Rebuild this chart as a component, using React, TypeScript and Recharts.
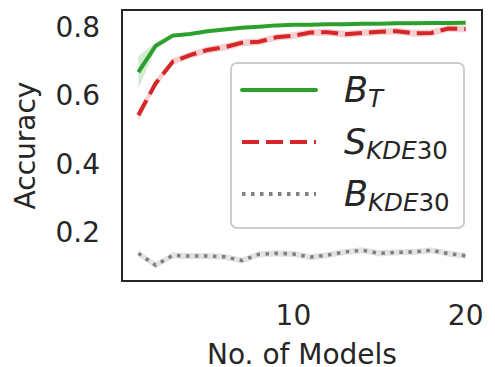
import {
  ComposedChart,
  Line,
  Area,
  XAxis,
  YAxis,
  Legend,
  Label,
  ReferenceArea,
} from "recharts";

const models = [1, 2, 3, 4, 5, 6, 7, 8, 9, 10, 11, 12, 13, 14, 15, 16, 17, 18, 19, 20];

const btMean = [0.668, 0.745, 0.775, 0.780, 0.788, 0.793, 0.798, 0.801, 0.805, 0.807, 0.807, 0.808, 0.808, 0.810, 0.810, 0.811, 0.811, 0.812, 0.812, 0.813];
const btLow = [0.620, 0.735, 0.769, 0.776, 0.785, 0.790, 0.795, 0.798, 0.802, 0.804, 0.804, 0.805, 0.805, 0.807, 0.807, 0.808, 0.808, 0.809, 0.809, 0.810];
const btHigh = [0.715, 0.755, 0.781, 0.784, 0.791, 0.796, 0.801, 0.804, 0.808, 0.810, 0.810, 0.811, 0.811, 0.813, 0.813, 0.814, 0.814, 0.815, 0.815, 0.816];

const skdeMean = [0.542, 0.635, 0.699, 0.718, 0.733, 0.741, 0.754, 0.757, 0.770, 0.775, 0.784, 0.785, 0.779, 0.783, 0.786, 0.788, 0.782, 0.783, 0.796, 0.794];
const skdeLow = [0.525, 0.624, 0.689, 0.708, 0.723, 0.731, 0.744, 0.747, 0.760, 0.765, 0.774, 0.775, 0.769, 0.773, 0.776, 0.778, 0.772, 0.773, 0.786, 0.784];
const skdeHigh = [0.559, 0.646, 0.709, 0.728, 0.743, 0.751, 0.764, 0.767, 0.780, 0.785, 0.794, 0.795, 0.789, 0.793, 0.796, 0.798, 0.792, 0.793, 0.806, 0.804];

const bkdeMean = [0.138, 0.103, 0.132, 0.130, 0.130, 0.128, 0.117, 0.135, 0.138, 0.136, 0.127, 0.133, 0.142, 0.147, 0.138, 0.141, 0.142, 0.147, 0.137, 0.131];
const bkdeLow = [0.129, 0.094, 0.123, 0.121, 0.121, 0.119, 0.108, 0.126, 0.129, 0.127, 0.118, 0.124, 0.133, 0.138, 0.129, 0.132, 0.133, 0.138, 0.128, 0.122];
const bkdeHigh = [0.147, 0.112, 0.141, 0.139, 0.139, 0.137, 0.126, 0.144, 0.147, 0.145, 0.136, 0.142, 0.151, 0.156, 0.147, 0.150, 0.151, 0.156, 0.146, 0.140];

const xTicks = [10, 20];
const yTicks = [0.2, 0.4, 0.6, 0.8];
const xDomain = [0.05, 20.95];
const yDomain = [0.057, 0.85];
const legendOrder = ["bt", "skde", "bkde"];

const data = models.map((m, i) => ({
  m,
  bt: btMean[i],
  btBand: [btLow[i], btHigh[i]],
  skde: skdeMean[i],
  skdeBand: [skdeLow[i], skdeHigh[i]],
  bkde: bkdeMean[i],
  bkdeBand: [bkdeLow[i], bkdeHigh[i]],
}));

const FONT = "DejaVu Sans";
const INK = "#262626";

function LegendBox({ payload }: any) {
  const items = (payload || [])
    .filter((p: any) => legendOrder.includes(p.dataKey))
    .sort((a: any, b: any) => legendOrder.indexOf(a.dataKey) - legendOrder.indexOf(b.dataKey));
  return (
    <svg width={235} height={167} style={{ display: "block" }}>
      <rect x={1} y={1} width={233} height={165} rx={6} fill="#fff" stroke="#cccccc" strokeWidth={2} />
      {items.map((p: any, i: number) => {
        const cy = 28 + i * 52;
        const [base, sub] = String(p.value).split("_");
        const letters = sub.replace(/[0-9]/g, "");
        const digits = sub.replace(/[^0-9]/g, "");
        const dash = p.payload?.strokeDasharray;
        return (
          <g key={i}>
            <line
              x1={12}
              x2={86}
              y1={cy}
              y2={cy}
              stroke={p.color}
              strokeWidth={4}
              strokeDasharray={dash}
              strokeLinecap={dash ? "butt" : "round"}
            />
            <text x={114} y={cy + 12} fill={INK} fontFamily={FONT} fontSize={35} fontStyle="italic">
              {base}
              <tspan fontSize={24.5} dy={5}>{letters}</tspan>
              <tspan fontSize={24.5} fontStyle="normal">{digits}</tspan>
            </text>
          </g>
        );
      })}
    </svg>
  );
}

export default function App() {
  return (
    <div style={{ position: "absolute", left: 0, top: 0 }}>
      <ComposedChart
        width={495}
        height={367}
        data={data}
        margin={{ top: 10, right: 13, bottom: 0, left: 0 }}
      >
        <XAxis
          dataKey="m"
          type="number"
          domain={xDomain}
          ticks={xTicks}
          tickSize={0}
          tickMargin={24}
          height={86}
          axisLine={false}
          tick={{ fill: INK, fontSize: 28, fontFamily: FONT }}
        >
          <Label
            content={({ viewBox }: any) => (
              <text
                x={viewBox.x + viewBox.width / 2}
                y={viewBox.y + 83}
                textAnchor="middle"
                fill={INK}
                fontSize={28}
                fontFamily={FONT}
              >
                No. of Models
              </text>
            )}
          />
        </XAxis>
        <YAxis
          domain={yDomain}
          ticks={yTicks}
          tickSize={0}
          tickMargin={22}
          width={122}
          allowDataOverflow
          tickFormatter={(v: number) => v.toFixed(1)}
          axisLine={false}
          tick={{ fill: INK, fontSize: 28, fontFamily: FONT }}
        >
          <Label
            content={({ viewBox }: any) => {
              const cy = viewBox.y + viewBox.height / 2;
              return (
                <text
                  x={35}
                  y={cy}
                  transform={`rotate(-90, 35, ${cy})`}
                  textAnchor="middle"
                  fill={INK}
                  fontSize={28}
                  fontFamily={FONT}
                >
                  Accuracy
                </text>
              );
            }}
          />
        </YAxis>

        <Area dataKey="btBand" stroke="none" fill="#2ca02c" fillOpacity={0.22} legendType="none" isAnimationActive={false} />
        <Line dataKey="bt" name="B_T" stroke="#2ca02c" strokeWidth={4} dot={false} activeDot={false} isAnimationActive={false} />
        <Area dataKey="skdeBand" stroke="none" fill="#d62728" fillOpacity={0.22} legendType="none" isAnimationActive={false} />
        <Line dataKey="skde" name="S_KDE30" stroke="#d62728" strokeWidth={4} strokeDasharray="17 7" dot={false} activeDot={false} isAnimationActive={false} />
        <Area dataKey="bkdeBand" stroke="none" fill="#7f7f7f" fillOpacity={0.22} legendType="none" isAnimationActive={false} />
        <Line dataKey="bkde" name="B_KDE30" stroke="#7f7f7f" strokeWidth={3.5} strokeDasharray="3.5 5.5" dot={false} activeDot={false} isAnimationActive={false} />

        <ReferenceArea
          x1={xDomain[0]}
          x2={xDomain[1]}
          y1={yDomain[0]}
          y2={yDomain[1]}
          fill="none"
          fillOpacity={0}
          stroke={INK}
          strokeWidth={2}
          strokeOpacity={1}
          ifOverflow="visible"
        />

        <Legend
          layout="vertical"
          align="center"
          verticalAlign="middle"
          content={<LegendBox />}
          wrapperStyle={{ left: 230, top: 62, width: 235, height: 167 }}
        />
      </ComposedChart>
    </div>
  );
}
